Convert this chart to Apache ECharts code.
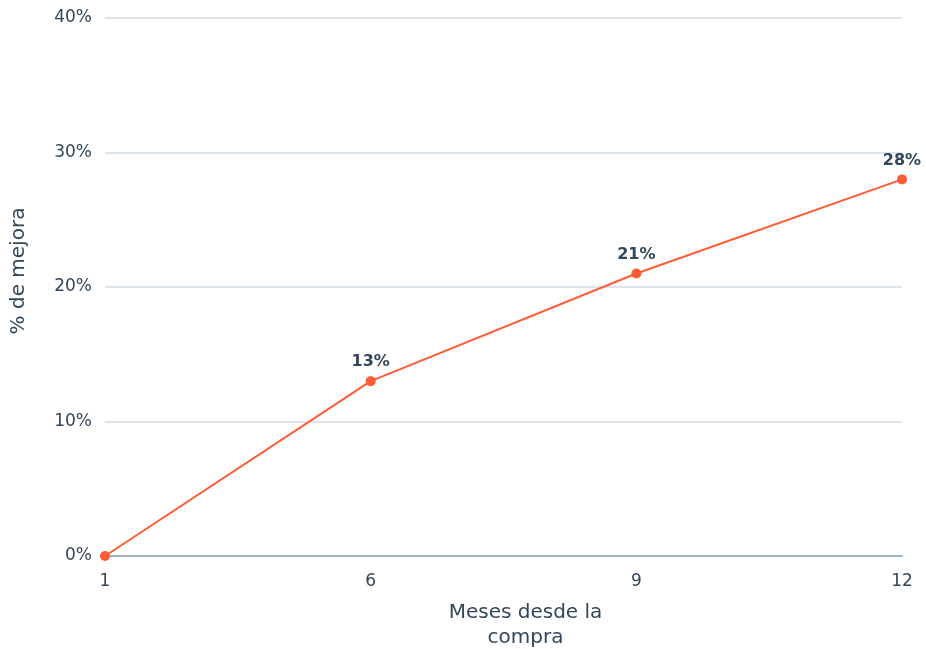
<!DOCTYPE html>
<html>
<head>
<meta charset="utf-8">
<script src="https://cdn.jsdelivr.net/npm/echarts@6/dist/echarts.min.js"></script>
<style>html,body{margin:0;padding:0;background:#fff}#c{width:926px;height:649px}</style>
</head>
<body>
<div id="c"></div>
<script>
const categories = ['1', '6', '9', '12'];
const values = [0, 13, 21, 28];
const labelShown = [false, true, true, true];

const chart = echarts.init(document.getElementById('c'), null, {renderer: 'canvas'});
const textColor = '#33475b';
const font = '"DejaVu Sans"';
chart.setOption({
  animation: false,
  grid: {left: 105, right: 24, top: 18, bottom: 93, containLabel: false, outerBoundsMode: 'none'},
  xAxis: {
    type: 'category',
    data: categories,
    boundaryGap: false,
    name: 'Meses desde la\ncompra',
    nameLocation: 'middle',
    nameGap: 44,
    nameTextStyle: {color: textColor, fontSize: 20, fontFamily: font, lineHeight: 25, padding: [0, 0, 0, 44]},
    axisLine: {lineStyle: {color: '#9fb3c6', width: 2}},
    axisTick: {show: false},
    axisLabel: {color: textColor, fontSize: 17, fontFamily: font, margin: 17},
    splitLine: {show: false}
  },
  yAxis: {
    type: 'value',
    min: 0, max: 40, interval: 10,
    name: '% de mejora',
    nameLocation: 'middle',
    nameGap: 76,
    nameTextStyle: {color: textColor, fontSize: 20, fontFamily: font, padding: [0, 0, 0, 32]},
    axisLine: {show: false},
    axisTick: {show: false},
    axisLabel: {color: textColor, fontSize: 17, fontFamily: font, margin: 13, formatter: '{value}%'},
    splitLine: {lineStyle: {color: '#dde4ec', width: 2}}
  },
  series: [{
    type: 'line',
    data: values.map((v, i) => ({
      value: v,
      label: {show: labelShown[i]}
    })),
    symbol: 'circle',
    symbolSize: 10,
    lineStyle: {color: '#ff5c35', width: 2},
    itemStyle: {color: '#ff5c35'},
    label: {
      position: 'top', distance: 6,
      color: textColor, fontWeight: 'bold', fontSize: 16, fontFamily: font,
      formatter: p => p.value + '%'
    }
  }]
});
</script>
</body>
</html>
